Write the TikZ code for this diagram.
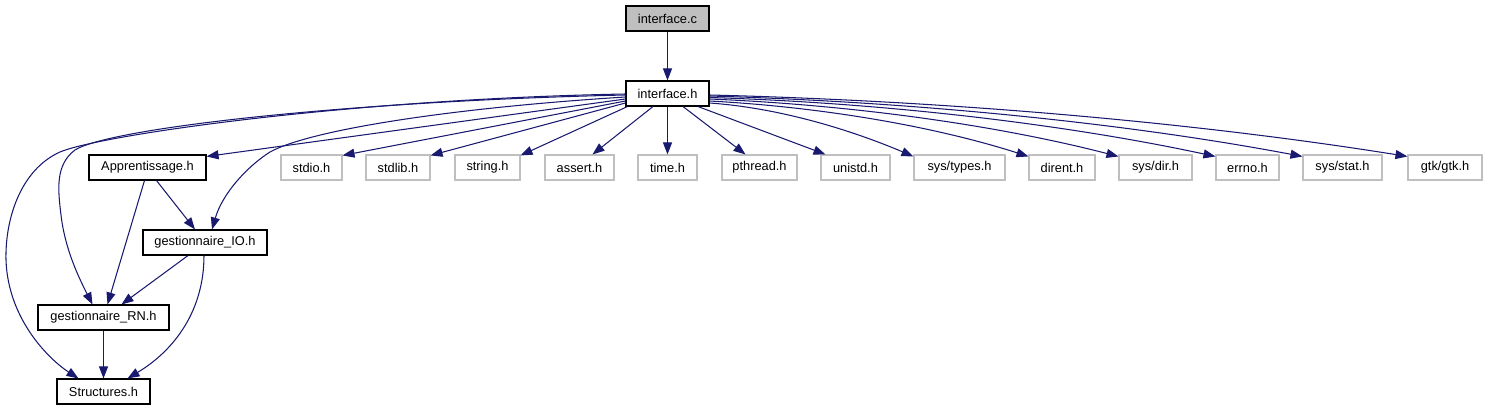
\documentclass[tikz,border=0pt]{standalone}
\usepackage{fontspec}
\setmainfont{Liberation Sans}
\usetikzlibrary{arrows.meta}
\definecolor{edgecol}{HTML}{191970}
\definecolor{graybox}{HTML}{BFBFBF}
\tikzset{
  box/.style={draw=black, line width=1.1pt, fill=white, inner sep=0pt, minimum height=25pt, font=\fontsize{12.8}{15}\selectfont},
  sysbox/.style={box, draw=graybox},
  dep/.style={draw=edgecol, line width=1.05pt, -{Triangle[length=12pt,width=9pt]}},
}
\begin{document}
\begin{tikzpicture}[x=1pt,y=-1pt]
\useasboundingbox (0,0) rectangle (1487,411);
% nodes
\node[box, fill=graybox, minimum width=83pt] (ic) at (667.5,18.5) {interface.c};
\node[box, minimum width=83pt] (ih) at (667.5,93.5) {interface.h};
\node[box, minimum width=117pt] (app) at (147.5,167.5) {Apprentissage.h};
\node[sysbox, minimum width=61pt] (stdio) at (311.5,167.5) {stdio.h};
\node[sysbox, minimum width=64pt] (stdlib) at (398,167.5) {stdlib.h};
\node[sysbox, minimum width=65pt] (string) at (487.5,167.5) {string.h};
\node[sysbox, minimum width=69pt] (assert) at (579.5,167.5) {assert.h};
\node[sysbox, minimum width=59pt] (time) at (667.5,167.5) {time.h};
\node[sysbox, minimum width=75pt] (pthread) at (759.5,167.5) {pthread.h};
\node[sysbox, minimum width=69pt] (unistd) at (855.5,167.5) {unistd.h};
\node[sysbox, minimum width=91pt] (systypes) at (959.5,167.5) {sys/types.h};
\node[sysbox, minimum width=66pt] (dirent) at (1062,167.5) {dirent.h};
\node[sysbox, minimum width=73pt] (sysdir) at (1155.5,167.5) {sys/dir.h};
\node[sysbox, minimum width=63pt] (errno) at (1247.5,167.5) {errno.h};
\node[sysbox, minimum width=79pt] (sysstat) at (1342.5,167.5) {sys/stat.h};
\node[sysbox, minimum width=74pt] (gtk) at (1445,167.5) {gtk/gtk.h};
\node[box, minimum width=124pt] (io) at (205,242.5) {gestionnaire\_IO.h};
\node[box, minimum width=131pt] (rn) at (103.5,317.5) {gestionnaire\_RN.h};
\node[box, minimum width=93pt] (st) at (103.5,391.5) {Structures.h};
% edges
\draw[dep] (ic) -- (ih);
% left long curves
\draw[dep] ([yshift=-0.5pt]ih.west) .. controls (350,99) and (100,135) .. (60,152)
  .. controls (20,170) and (5,220) .. (6,260)
  .. controls (8,320) and (50,360) .. ([xshift=-25pt]st.north);
\draw[dep] ([yshift=-1.5pt]ih.west) .. controls (350,101) and (110,128) .. (75,150)
  .. controls (55,165) and (58,190) .. (61,215)
  .. controls (65,250) and (80,280) .. ([xshift=-11pt]rn.north);
\draw[dep] ([yshift=-3.5pt]ih.west) .. controls (450,108) and (310,130) .. (270,152)
  .. controls (245,168) and (222,195) .. ([xshift=7pt]io.north);
% left straight
\draw[dep] ([yshift=-5.5pt]ih.west) -- ([yshift=-2pt]app.north east);
\draw[dep] ([yshift=-7.5pt]ih.west) -- ([yshift=-1pt]stdio.north east);
\draw[dep] ([yshift=-9.5pt]ih.west) -- ([yshift=-1pt]stdlib.north east);
\draw[dep] ([xshift=2pt]ih.south west) -- ([yshift=-1pt]string.north east);
\draw[dep] ([xshift=-14.5pt]ih.south) -- ([xshift=13pt]assert.north);
\draw[dep] (ih.south) -- (time.north);
\draw[dep] ([xshift=15.5pt]ih.south) -- ([xshift=-14pt]pthread.north);
\draw[dep] ([xshift=30.5pt]ih.south) -- ([xshift=-30pt]unistd.north);
% right curves
\draw[dep] ([yshift=-9.5pt]ih.east) .. controls (780,108) and (851,130) .. ([yshift=-2pt]systypes.north west);
\draw[dep] ([yshift=-7.5pt]ih.east) .. controls (821,107) and (933,126) .. ([yshift=-2pt]dirent.north west);
\draw[dep] ([yshift=-5.5pt]ih.east) .. controls (853,105) and (996,125) .. ([yshift=-2pt]sysdir.north west);
\draw[dep] ([yshift=-4pt]ih.east) .. controls (886,103) and (1064,124) .. ([yshift=-2pt]errno.north west);
\draw[dep] ([yshift=-2.5pt]ih.east) .. controls (917,102) and (1125,123) .. ([yshift=-2pt]sysstat.north west);
\draw[dep] ([yshift=-1.5pt]ih.east) .. controls (954,101) and (1198,123) .. ([yshift=-2pt]gtk.north west);
% lower graph
\draw[dep] ([xshift=9pt]app.south) -- ([xshift=-10pt]io.north);
\draw[dep] ([xshift=-3pt]app.south) -- ([xshift=4pt]rn.north);
\draw[dep] ([xshift=-17pt]io.south) -- ([xshift=18pt]rn.north);
\draw[dep] ([xshift=-1pt]io.south) .. controls (204,310) and (175,350) .. ([xshift=24pt]st.north);
\draw[dep] (rn) -- (st);
\end{tikzpicture}
\end{document}
